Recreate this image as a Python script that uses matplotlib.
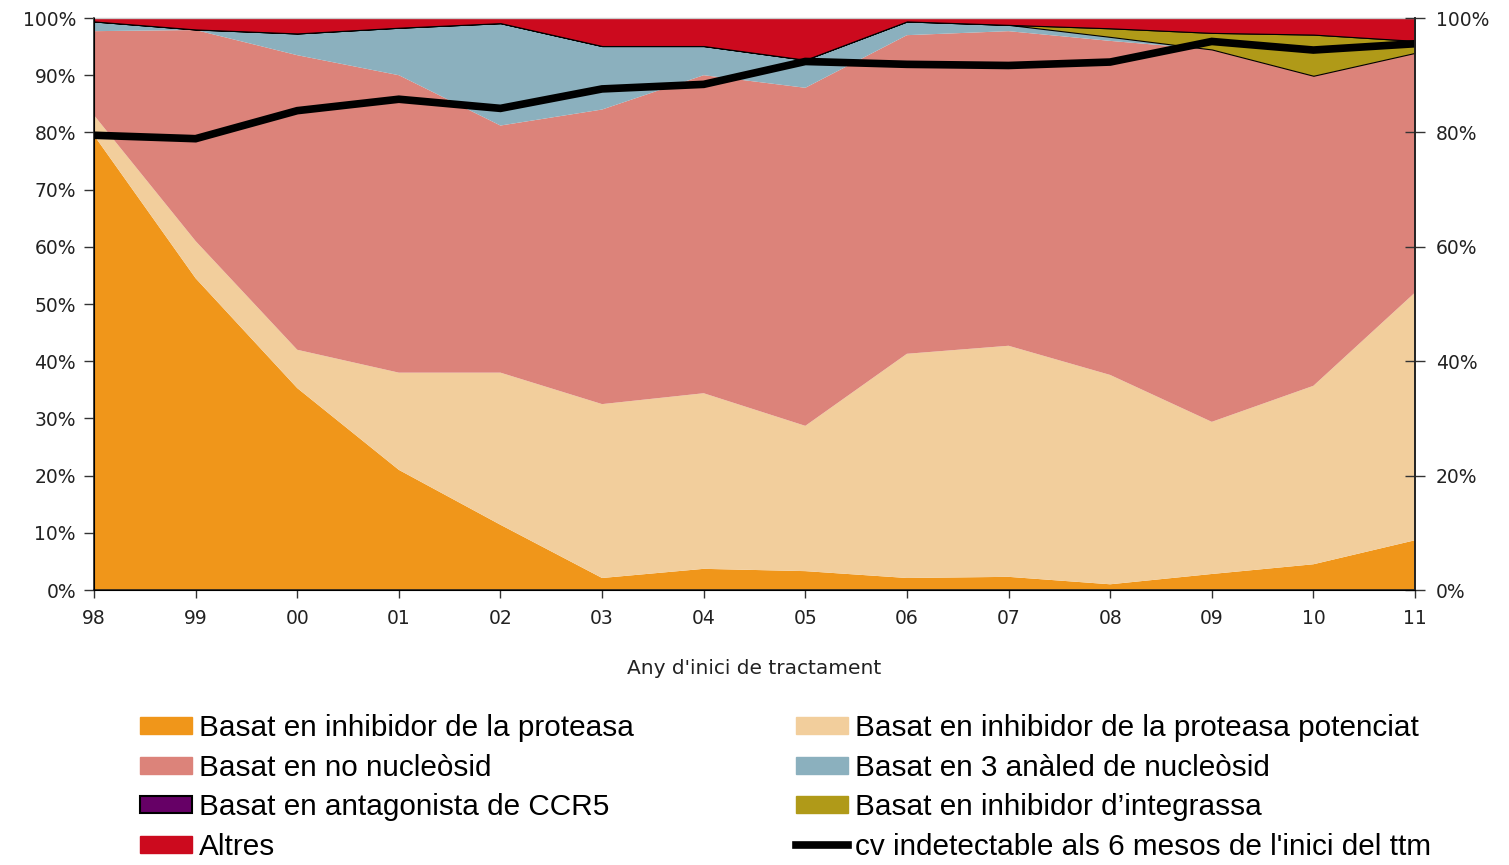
import matplotlib
matplotlib.use("Agg")
import matplotlib.pyplot as plt
from matplotlib.patches import Patch
from matplotlib.lines import Line2D

years = ["98", "99", "00", "01", "02", "03", "04", "05", "06", "07", "08", "09", "10", "11"]

pi = [79.5, 54.5, 35.3, 21.0, 11.4, 2.1, 3.7, 3.3, 2.1, 2.3, 1.0, 2.8, 4.5, 8.7]
pi_boosted = [3.5, 6.5, 6.7, 17.0, 26.6, 30.4, 30.7, 25.4, 39.2, 40.4, 36.6, 26.6, 31.2, 43.3]
non_nucleoside = [14.7, 36.9, 51.5, 52.0, 43.2, 51.5, 55.6, 59.1, 55.7, 55.0, 58.4, 65.1, 54.2, 41.9]
three_nucleoside = [1.7, 0.1, 3.8, 8.3, 17.9, 11.1, 5.1, 4.9, 2.4, 1.1, 0.7, 0.0, 0.0, 0.0]
ccr5 = [0.0] * 14
integrase = [0.0, 0.0, 0.0, 0.0, 0.0, 0.0, 0.0, 0.0, 0.0, 0.0, 1.5, 2.9, 7.2, 2.1]
others = [0.6, 2.0, 2.7, 1.7, 0.9, 4.9, 4.9, 7.3, 0.6, 1.2, 1.8, 2.6, 2.9, 4.0]
cv_undetectable = [79.5, 78.9, 83.8, 85.8, 84.2, 87.6, 88.4, 92.4, 91.9, 91.7, 92.3, 95.9, 94.4, 95.5]

labels = ["Basat en inhibidor de la proteasa",
          "Basat en inhibidor de la proteasa potenciat",
          "Basat en no nucleòsid",
          "Basat en 3 anàled de nucleòsid",
          "Basat en antagonista de CCR5",
          "Basat en inhibidor d\u2019integrassa",
          "Altres"]
line_label = "cv indetectable als 6 mesos de l'inici del ttm"
xlabel = "Any d'inici de tractament"

colors = ["#F0961A", "#F2CE9C", "#DC837A", "#8BB0BE", "#660066", "#B09A18", "#CC0A1E"]

plt.rcParams['font.family'] = ['DejaVu Sans']

fig = plt.figure(figsize=(15.09, 8.65), dpi=100)
ax = fig.add_axes([94/1509, 1 - 590/865, (1415 - 94)/1509, (590 - 18)/865])

x = list(range(len(years)))
series = [pi, pi_boosted, non_nucleoside, three_nucleoside, ccr5, integrase, others]
polys = ax.stackplot(x, *series, colors=colors, linewidth=0)
for idx in (5, 6):
    polys[idx].set_edgecolor("black")
    polys[idx].set_linewidth(0.8)

ax.set_xlim(0, len(years) - 1)
ax.set_ylim(0, 100)
ax.set_xticks(x)
ax.set_xticklabels(years)
ax.set_yticks(range(0, 101, 10))
ax.set_yticklabels([f"{v}%" for v in range(0, 101, 10)])
ax.tick_params(axis="y", direction="out", length=7, width=1, labelsize=13.5, pad=6, colors="#333333", labelcolor="#222222")
ax.tick_params(axis="x", direction="out", length=6, width=1, labelsize=13.5, pad=8, colors="#333333", labelcolor="#222222")
ax.spines["top"].set_color("#cccccc")
ax.spines["top"].set_linewidth(1.0)
for s in ("left", "bottom", "right"):
    ax.spines[s].set_color("#222222")
    ax.spines[s].set_linewidth(1.2)
ax.set_xlabel(xlabel, fontsize=14.5, labelpad=22, color="#222222")

ax2 = ax.twinx()
ax2.set_ylim(0, 100)
ax2.plot(x, cv_undetectable, color="black", linewidth=5.5, solid_joinstyle="miter")
ax2.set_yticks(range(0, 101, 20))
ax2.set_yticklabels([f"{v}%" for v in range(0, 101, 20)])
ax2.tick_params(axis="y", direction="inout", length=14, width=1, labelsize=13.5, pad=8, colors="#333333", labelcolor="#222222")
ax2.spines["top"].set_visible(False)
ax2.spines["right"].set_color("#222222")
ax2.spines["right"].set_linewidth(1.2)

handles = [Patch(facecolor=colors[0], edgecolor=colors[0]),
           Patch(facecolor=colors[2], edgecolor=colors[2]),
           Patch(facecolor=colors[4], edgecolor="black", linewidth=1.5),
           Patch(facecolor=colors[6], edgecolor=colors[6]),
           Patch(facecolor=colors[1], edgecolor=colors[1]),
           Patch(facecolor=colors[3], edgecolor=colors[3]),
           Patch(facecolor=colors[5], edgecolor=colors[5]),
           Line2D([0], [0], color="black", linewidth=5.5)]
hlabels = [labels[0], labels[2], labels[4], labels[6], labels[1], labels[3], labels[5], line_label]

leg = fig.legend(handles, hlabels, loc="upper left", bbox_to_anchor=(140/1509, 1 - 714/865),
                 ncol=2, frameon=False, prop={"family": "Liberation Sans", "size": 21.4},
                 handlelength=1.75, handleheight=0.5, handletextpad=0.24, columnspacing=5.45,
                 labelspacing=0.39, borderaxespad=0, borderpad=0)

fig.savefig("out.png", dpi=100)
